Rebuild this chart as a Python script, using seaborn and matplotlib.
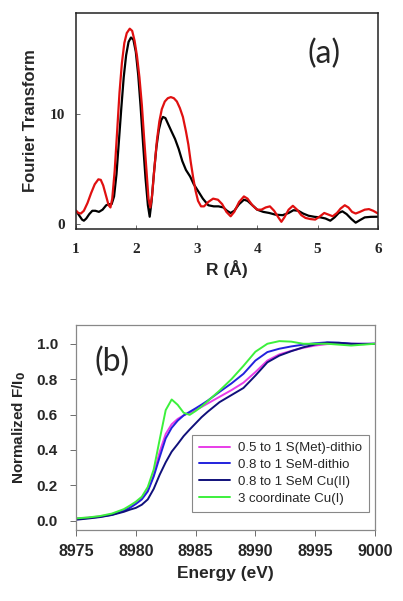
import numpy as np
import pandas as pd
import matplotlib
matplotlib.use("Agg")
import matplotlib.pyplot as plt
import seaborn as sns

# === (a) Fourier transform ===
r_black = [1.00, 1.05, 1.10, 1.13, 1.17, 1.22, 1.27, 1.32, 1.38, 1.44, 1.50, 1.55, 1.59,
           1.63, 1.67, 1.71, 1.75, 1.79, 1.83, 1.87, 1.91, 1.95, 1.99, 2.03, 2.07, 2.11,
           2.15, 2.19, 2.22, 2.25, 2.29, 2.33, 2.37, 2.41, 2.44, 2.48, 2.53, 2.58, 2.64,
           2.70, 2.76, 2.82, 2.89, 2.95, 3.02, 3.10, 3.19, 3.28, 3.36, 3.44, 3.50, 3.56,
           3.62, 3.70, 3.78, 3.84, 3.92, 4.00, 4.10, 4.20, 4.30, 4.42, 4.52, 4.60, 4.68,
           4.76, 4.85, 4.95, 5.05, 5.13, 5.21, 5.28, 5.35, 5.41, 5.48, 5.56, 5.63, 5.70,
           5.78, 5.88, 6.00]
ft_black = [1.2, 0.8, 0.4, 0.3, 0.5, 0.9, 1.2, 1.2, 1.1, 1.3, 1.7, 1.8, 1.8,
            2.5, 4.5, 7.5, 10.5, 13.3, 15.3, 16.5, 16.9, 16.7, 15.6, 13.5, 10.6, 7.3,
            4.2, 1.7, 0.66, 2.0, 4.6, 6.9, 8.5, 9.4, 9.7, 9.6, 9.0, 8.4, 7.7,
            6.8, 5.7, 4.9, 4.3, 3.6, 3.0, 2.3, 1.7, 1.6, 1.6, 1.5, 1.2, 1.0,
            1.2, 1.8, 2.2, 2.1, 1.7, 1.3, 1.1, 1.0, 0.85, 0.8, 1.0, 1.25, 1.2,
            0.95, 0.75, 0.65, 0.6, 0.5, 0.3, 0.6, 1.0, 1.15, 0.9, 0.45, 0.12, 0.35,
            0.6, 0.65, 0.66]

r_red = [1.00, 1.04, 1.08, 1.13, 1.19, 1.25, 1.31, 1.37, 1.41, 1.45, 1.50, 1.54, 1.57,
         1.60, 1.64, 1.68, 1.72, 1.76, 1.80, 1.84, 1.89, 1.93, 1.97, 2.01, 2.05, 2.09,
         2.13, 2.17, 2.20, 2.23, 2.26, 2.30, 2.34, 2.38, 2.42, 2.47, 2.52, 2.57, 2.62,
         2.67, 2.72, 2.77, 2.82, 2.86, 2.90, 2.94, 2.98, 3.02, 3.07, 3.12, 3.19, 3.27,
         3.35, 3.42, 3.49, 3.56, 3.62, 3.70, 3.78, 3.84, 3.92, 4.00, 4.07, 4.14, 4.21,
         4.28, 4.35, 4.40, 4.45, 4.52, 4.59, 4.66, 4.73, 4.80, 4.88, 4.96, 5.04, 5.11,
         5.18, 5.25, 5.32, 5.38, 5.45, 5.51, 5.57, 5.63, 5.70, 5.78, 5.85, 5.92, 6.00]
ft_red = [1.2, 1.0, 0.95, 1.2, 1.9, 2.8, 3.6, 4.05, 4.0, 3.5, 2.5, 1.7, 1.5,
          2.3, 4.8, 8.3, 11.9, 14.6, 16.4, 17.3, 17.7, 17.5, 16.6, 15.2, 13.3, 10.8,
          7.6, 4.6, 2.3, 1.5, 2.6, 5.2, 7.6, 9.3, 10.4, 11.1, 11.4, 11.5, 11.4,
          11.1, 10.5, 9.7, 8.4, 7.2, 5.6, 4.2, 3.0, 2.1, 1.6, 1.6, 2.0, 2.3,
          2.2, 1.8, 1.1, 0.7, 1.1, 2.0, 2.5, 2.3, 1.7, 1.3, 1.3, 1.5, 1.6,
          1.2, 0.6, 0.2, 0.6, 1.3, 1.65, 1.3, 0.8, 0.55, 0.45, 0.4, 0.7, 1.0,
          0.85, 0.7, 1.0, 1.4, 1.7, 1.5, 1.1, 0.95, 1.1, 1.3, 1.35, 1.2, 0.95]

# === (b) XANES edges ===
energy = [8975, 8976, 8977, 8978, 8979, 8979.5, 8980, 8980.5, 8981, 8981.5, 8982,
          8982.5, 8983, 8983.5, 8984, 8984.5, 8985, 8985.5, 8986, 8987, 8988, 8989,
          8990, 8991, 8992, 8993, 8994, 8995, 8996, 8997, 8998, 8999, 9000]
s_met_dithio = [0.012, 0.017, 0.024, 0.036, 0.06, 0.078, 0.10, 0.128, 0.17, 0.26, 0.39,
                0.49, 0.545, 0.575, 0.595, 0.61, 0.625, 0.643, 0.662, 0.70, 0.738, 0.78,
                0.84, 0.905, 0.94, 0.96, 0.977, 0.99, 0.998, 1.0, 1.0, 1.0, 1.0]
sem_dithio = [0.01, 0.015, 0.022, 0.033, 0.055, 0.072, 0.094, 0.12, 0.165, 0.25, 0.36,
              0.465, 0.525, 0.565, 0.595, 0.615, 0.635, 0.656, 0.678, 0.728, 0.776, 0.83,
              0.905, 0.953, 0.972, 0.985, 0.995, 1.003, 1.008, 1.006, 1.0, 1.0, 1.0]
sem_cu2 = [0.005, 0.012, 0.02, 0.032, 0.05, 0.062, 0.072, 0.09, 0.12, 0.18, 0.26,
           0.33, 0.39, 0.433, 0.478, 0.515, 0.55, 0.585, 0.615, 0.67, 0.71, 0.75,
           0.82, 0.895, 0.933, 0.958, 0.98, 0.996, 1.006, 1.005, 1.0, 0.998, 1.0]
cu1_3coord = [0.013, 0.018, 0.026, 0.04, 0.065, 0.085, 0.107, 0.135, 0.19, 0.29, 0.46,
              0.625, 0.685, 0.655, 0.61, 0.598, 0.62, 0.645, 0.675, 0.735, 0.80, 0.875,
              0.955, 1.0, 1.015, 1.012, 1.0, 1.0, 1.0, 0.995, 0.99, 0.995, 1.0]
labels_b = ["0.5 to 1 S(Met)-dithio", "0.8 to 1 SeM-dithio",
            "0.8 to 1 SeM Cu(II)", "3 coordinate Cu(I)"]
colors_b = ["#e83ce8", "#2222dd", "#10107a", "#3cf03c"]

sns.set_style("ticks")
plt.rcParams["font.family"] = ["Liberation Sans", "DejaVu Sans"]

fig = plt.figure(figsize=(4.03, 6.01), dpi=100)

# --- panel (a) ---
ax1 = fig.add_axes([0.1886, 0.619, 0.7494, 0.359])
sns.lineplot(x=r_black, y=ft_black, ax=ax1, color="black", linewidth=1.6)
sns.lineplot(x=r_red, y=ft_red, ax=ax1, color="#e01010", linewidth=1.6)
ax1.set_xlim(1, 6)
ax1.set_ylim(-0.45, 19.1)
ax1.set_xticks([1, 2, 3, 4, 5, 6])
ax1.set_yticks([0, 10])
ax1.tick_params(direction="in", length=3, width=0.6, color="#555555")
ax1.tick_params(axis="x", pad=10)
ax1.tick_params(axis="y", pad=8)
for lab in ax1.get_xticklabels() + ax1.get_yticklabels():
    lab.set_family(["Liberation Serif"])
    lab.set_fontweight("bold")
    lab.set_fontsize(11)
for sp in ax1.spines.values():
    sp.set_color("#222222")
    sp.set_linewidth(1.1)
ax1.set_xlabel("R (Å)", fontsize=12.5, fontweight="bold", labelpad=3)
ax1.set_ylabel("Fourier Transform", fontsize=12, fontweight="bold", labelpad=8)
ax1.text(0.82, 0.81, "(a)", transform=ax1.transAxes, ha="center", va="center",
         fontsize=23, family=["Lato", "DejaVu Sans"])

# --- panel (b) ---
ax2 = fig.add_axes([0.1886, 0.1181, 0.7419, 0.3411])
series_b = [s_met_dithio, sem_dithio, sem_cu2, cu1_3coord]
for vals, lab, col in zip(series_b, labels_b, colors_b):
    sns.lineplot(x=energy, y=vals, ax=ax2, color=col, linewidth=1.4, label=lab)
ax2.set_xlim(8975, 9000)
ax2.set_ylim(-0.053, 1.106)
ax2.set_xticks([8975, 8980, 8985, 8990, 8995, 9000])
ax2.set_yticks([0.0, 0.2, 0.4, 0.6, 0.8, 1.0])
ax2.set_yticklabels(["0.0", "0.2", "0.4", "0.6", "0.8", "1.0"])
ax2.tick_params(direction="out", length=4, width=0.6, color="#555555")
ax2.tick_params(axis="x", labelsize=11.5, pad=6)
ax2.tick_params(axis="y", labelsize=11, pad=9)
for lab in ax2.get_xticklabels() + ax2.get_yticklabels():
    lab.set_fontweight("bold")
for sp in ax2.spines.values():
    sp.set_color("#888888")
    sp.set_linewidth(0.9)
ax2.set_xlabel("Energy (eV)", fontsize=12.5, fontweight="bold", labelpad=5)
ax2.set_ylabel("Normalized F/I$_\\mathbf{0}$", fontsize=11, fontweight="bold", labelpad=6)
ax2.text(0.12, 0.82, "(b)", transform=ax2.transAxes, ha="center", va="center",
         fontsize=23, family=["Lato", "DejaVu Sans"])
leg = ax2.legend(loc="lower right", bbox_to_anchor=(0.98, 0.088), fontsize=9.5,
                 frameon=True, fancybox=False, framealpha=1, edgecolor="#888888",
                 handlelength=2.3, labelspacing=0.35, borderpad=0.55,
                 handletextpad=0.6, borderaxespad=0)
leg.get_frame().set_linewidth(0.8)

fig.savefig("out.png", dpi=100)
